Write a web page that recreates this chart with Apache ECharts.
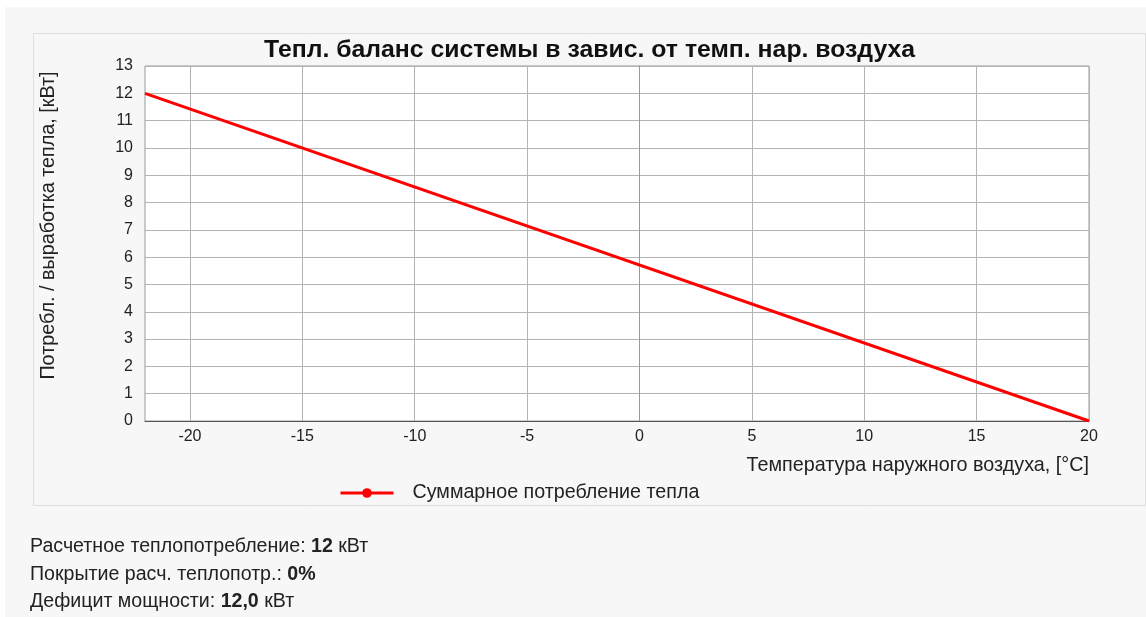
<!DOCTYPE html>
<html><head><meta charset="utf-8">
<script src="https://cdn.jsdelivr.net/npm/echarts@6/dist/echarts.min.js"></script>
<style>html,body{margin:0;padding:0;background:#fff}#c{width:1146px;height:617px}</style>
</head><body><div id="c"></div>
<script>
const titleText = 'Тепл. баланс системы в завис. от темп. нар. воздуха';
const yAxisName = 'Потребл. / выработка тепла, [кВт]';
const xAxisName = 'Температура наружного воздуха, [°C]';
const seriesName = 'Суммарное потребление тепла';
const xTicks = [-20, -15, -10, -5, 0, 5, 10, 15, 20];
const temps = [-22, 20];
const consumption = [12, 0];
const infoLines = [
  ['Расчетное теплопотребление: ', '12', ' кВт'],
  ['Покрытие расч. теплопотр.: ', '0%', ''],
  ['Дефицит мощности: ', '12,0', ' кВт']
];

const font = 'Arial, "Liberation Sans", sans-serif';
const chart = echarts.init(document.getElementById('c'));
const graphics = [
  {type:'rect', shape:{x:5,y:7,width:1141,height:610}, style:{fill:'#f7f7f7'}, z:-10, silent:true},
  {type:'rect', shape:{x:33.5,y:33.5,width:1112,height:472}, style:{fill:'#f7f7f7', stroke:'#dedede', lineWidth:1}, z:-9, silent:true}
];
infoLines.forEach((l, i) => {
  graphics.push({type:'text', left:30, top:537 + i*27.5, style:{
    text:'{n|' + l[0] + '}{b|' + l[1] + '}{n|' + l[2] + '}',
    rich:{n:{fontSize:19.6, fontFamily:font, fill:'#222'}, b:{fontSize:19.6, fontFamily:font, fontWeight:'bold', fill:'#222'}}
  }});
});

chart.setOption({
  animation:false,
  textStyle:{fontFamily:font},
  title:{text:titleText, left:259, top:33, textStyle:{fontSize:24.8, fontWeight:'bold', color:'#111', fontFamily:font}},
  legend:{left:334, top:478, itemWidth:53, itemHeight:12, data:[seriesName],
    lineStyle:{width:3},
    textStyle:{fontSize:19.7, color:'#222', fontFamily:font, padding:[0,0,0,14]}},
  grid:{left:145, right:57, top:66, bottom:196, containLabel:false, show:true, backgroundColor:'#fff', borderColor:'#999', borderWidth:1},
  xAxis:{type:'value', min:-22, max:20,
    name:xAxisName, nameLocation:'end', nameGap:0,
    nameTextStyle:{fontSize:19.8, color:'#222', align:'right', verticalAlign:'top', padding:[35,0,0,0], fontFamily:font},
    axisLine:{show:true, onZero:false, lineStyle:{color:'#555', width:1}},
    axisTick:{show:false, customValues:xTicks},
    axisLabel:{customValues:xTicks, fontSize:16, color:'#222', margin:8, fontFamily:font},
    splitLine:{show:true, lineStyle:{color:'#b4b4b4', width:1}}},
  yAxis:{type:'value', min:0, max:13, interval:1,
    name:yAxisName, nameLocation:'middle', nameGap:86, nameRotate:90,
    nameTextStyle:{fontSize:19.8, color:'#222', fontFamily:font, padding:[0,0,0,36]},
    axisLine:{show:true, lineStyle:{color:'#999'}},
    axisTick:{show:false},
    axisLabel:{fontSize:16, color:'#222', margin:12, fontFamily:font},
    splitLine:{show:true, lineStyle:{color:'#b4b4b4', width:1}}},
  series:[{name:seriesName, type:'line', data:temps.map((t,i)=>[t, consumption[i]]),
    showSymbol:false, symbol:'circle', symbolSize:11,
    lineStyle:{color:'#ff0000', width:3}, itemStyle:{color:'#ff0000'}}],
  graphic:graphics
});
</script></body></html>
